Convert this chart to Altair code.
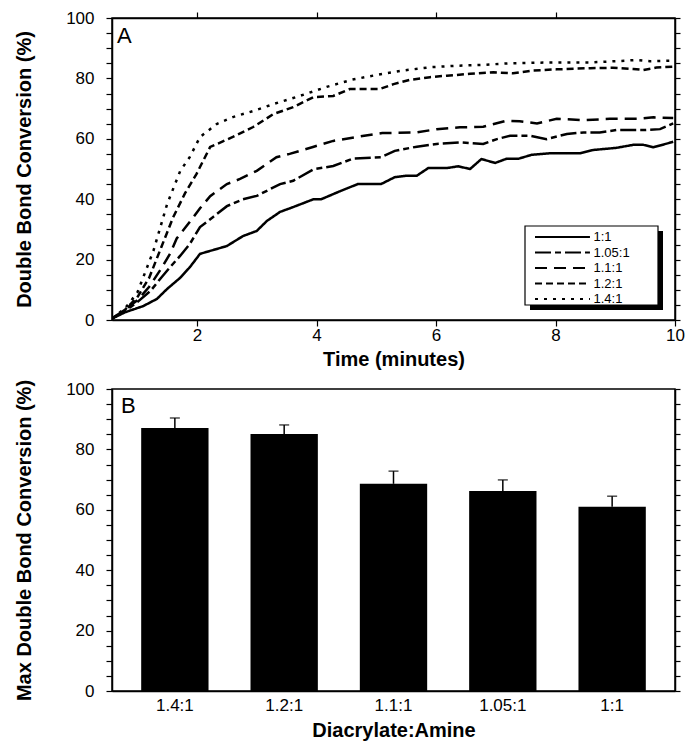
import altair as alt
import pandas as pd

FONT = "Liberation Sans"

# ---------------- Panel A data ----------------
ratios = ["1:1", "1.05:1", "1.1:1", "1.2:1", "1.4:1"]
dash_patterns = [[1, 0], [16, 4, 6, 4], [12, 7], [7, 4], [3, 6]]

t_100 = [0.58, 0.80, 1.10, 1.33, 1.50, 1.72, 1.88, 2.05, 2.50, 2.77, 3.00, 3.17, 3.39,
         3.61, 3.95, 4.08, 4.40, 4.69, 5.08, 5.31, 5.51, 5.68, 5.87, 6.18, 6.37, 6.57,
         6.76, 6.99, 7.18, 7.38, 7.60, 7.91, 8.41, 8.63, 9.02, 9.30, 9.47, 9.64, 9.97]
v_100 = [0.5, 2.6, 4.6, 7.0, 10.3, 14.0, 17.5, 21.9, 24.5, 27.8, 29.5, 32.8, 35.8,
         37.4, 40.0, 40.0, 42.7, 45.0, 45.0, 47.3, 47.8, 47.8, 50.3, 50.3, 50.9, 50.0,
         53.3, 52.0, 53.4, 53.4, 54.7, 55.2, 55.2, 56.3, 57.0, 58.0, 58.0, 57.2, 59.0]

t_105 = [0.58, 0.80, 1.00, 1.22, 1.40, 1.55, 1.72, 1.88, 2.05, 2.27, 2.50, 2.77, 3.00,
         3.39, 3.61, 3.95, 4.28, 4.62, 5.08, 5.31, 5.68, 6.01, 6.40, 6.79, 7.02, 7.24,
         7.57, 7.85, 8.19, 8.47, 8.74, 9.02, 9.47, 9.75, 9.97]
v_105 = [0.5, 3.0, 5.9, 9.6, 14.0, 17.5, 21.3, 25.2, 30.8, 34.1, 37.7, 40.0, 41.1,
         45.0, 46.1, 49.9, 51.0, 53.5, 53.9, 56.0, 57.4, 58.3, 58.8, 58.3, 59.9, 61.0,
         61.0, 59.9, 61.6, 62.1, 62.1, 62.9, 62.9, 63.2, 65.1]

t_110 = [0.58, 0.80, 1.00, 1.20, 1.40, 1.55, 1.66, 1.88, 2.05, 2.22, 2.50, 2.72, 3.00,
         3.33, 3.55, 3.94, 4.28, 4.67, 5.10, 5.68, 6.01, 6.40, 6.79, 7.18, 7.40, 7.69,
         8.02, 8.47, 8.91, 9.36, 9.64, 9.97]
v_110 = [0.5, 3.5, 6.5, 11.0, 17.0, 22.0, 27.0, 32.5, 37.0, 41.0, 45.0, 46.7, 49.4,
         53.9, 55.0, 57.3, 59.3, 60.6, 61.9, 62.1, 63.2, 63.8, 64.0, 66.0, 65.8, 65.1,
         66.6, 66.2, 66.6, 66.6, 67.1, 66.9]

t_120 = [0.58, 0.80, 1.00, 1.20, 1.40, 1.60, 1.80, 1.99, 2.22, 2.60, 2.94, 3.28, 3.61,
         3.95, 4.28, 4.56, 5.06, 5.29, 5.56, 5.90, 6.18, 6.57, 6.96, 7.29, 7.63, 8.02,
         8.58, 8.96, 9.30, 9.47, 9.69, 9.97]
v_120 = [0.5, 3.5, 7.5, 14.0, 24.0, 34.0, 42.0, 48.3, 57.3, 60.6, 63.9, 68.2, 70.5,
         73.8, 74.2, 76.5, 76.5, 78.1, 79.5, 80.4, 80.9, 81.5, 82.0, 81.7, 82.6, 83.0,
         83.4, 83.5, 83.1, 82.8, 83.6, 83.9]

t_140 = [0.58, 0.80, 1.00, 1.27, 1.50, 1.72, 1.88, 2.05, 2.33, 2.60, 2.94, 3.28, 3.72,
         4.17, 4.60, 5.02, 5.45, 5.90, 6.35, 6.79, 7.24, 7.69, 8.13, 8.58, 9.02, 9.36,
         9.58, 9.97]
v_140 = [0.5, 4.0, 9.0, 22.9, 38.4, 49.4, 54.0, 60.6, 64.9, 67.2, 69.2, 71.5, 74.2,
         77.2, 79.6, 81.2, 82.6, 83.7, 84.2, 84.5, 85.0, 85.2, 85.3, 85.3, 85.7, 86.1,
         85.7, 85.9]

x_ticks_a = [2, 4, 6, 8, 10]
y_ticks = list(range(0, 101, 5))

# ---------------- Panel B data ----------------
cats_b = ["1.4:1", "1.2:1", "1.1:1", "1.05:1", "1:1"]
mean_b = [87.1, 85.1, 68.6, 66.2, 61.0]
upper_b = [90.4, 88.1, 72.8, 69.9, 64.5]

# ---------------- tables ----------------
rows = []
for r, ts, vs in zip(ratios, [t_100, t_105, t_110, t_120, t_140],
                     [v_100, v_105, v_110, v_120, v_140]):
    for t, v in zip(ts, vs):
        rows.append({"ratio": r, "t": t, "v": v})
df_a = pd.DataFrame(rows)
df_b = pd.DataFrame({"ratio": cats_b, "mean": mean_b, "upper": upper_b})
dummy = pd.DataFrame({"k": [0]})

W = 563
H = 302

label_expr = "datum.value % 20 == 0 ? datum.label : ''"

x_scale_a = alt.Scale(domain=[0.577, 10], nice=False, zero=False)
y_scale = alt.Scale(domain=[0, 100], nice=False)

lines = alt.Chart(df_a).mark_line(color="black", strokeWidth=2.5, clip=True).encode(
    x=alt.X("t:Q", scale=x_scale_a,
            axis=alt.Axis(values=x_ticks_a, title="Time (minutes)", labelFlush=False,
                          labelOverlap=False, tickSize=6, labelPadding=1, titlePadding=6)),
    y=alt.Y("v:Q", scale=y_scale,
            axis=alt.Axis(values=y_ticks, labelExpr=label_expr, title="Double Bond Conversion (%)",
                          labelOverlap=False, labelPadding=12, titlePadding=31)),
    strokeDash=alt.StrokeDash(
        "ratio:N", sort=ratios,
        scale=alt.Scale(domain=ratios, range=dash_patterns),
        legend=alt.Legend(orient="none", legendX=416.5, legendY=212.5, title=None,
                          symbolType="M0,0H15.7", symbolSize=49, symbolStrokeWidth=2,
                          symbolStrokeColor="black", symbolFillColor="transparent",
                          labelFont=FONT, labelFontSize=13, labelColor="black",
                          labelOffset=52, rowPadding=1.5, padding=0)),
)

frame_a = alt.Chart(df_a).mark_point(opacity=0).encode(
    x=alt.X("t:Q", scale=x_scale_a,
            axis=alt.Axis(orient="top", values=[2, 4, 6, 8], labels=False, title=None, tickSize=6)),
    y=alt.Y("v:Q", scale=y_scale,
            axis=alt.Axis(orient="right", values=y_ticks, labels=False, title=None, tickSize=5)),
)

# legend frame with drop shadow
shadow = alt.Chart(dummy).mark_rect(color="black").encode(
    x=alt.value(418), x2=alt.value(551), y=alt.value(213), y2=alt.value(292))
legend_box = alt.Chart(dummy).mark_rect(fill="white", stroke="black", strokeWidth=1.2).encode(
    x=alt.value(413), x2=alt.value(546), y=alt.value(208), y2=alt.value(287))

label_a = alt.Chart(dummy).mark_text(text="A", font=FONT, fontSize=22, align="left",
                                     baseline="alphabetic", color="black").encode(
    x=alt.value(5), y=alt.value(25))

panel_a = alt.layer(lines, shadow, legend_box, frame_a, label_a).resolve_axis(
    x="independent", y="independent").properties(width=W, height=H)

# ---------------- Panel B ----------------
x_b = alt.X("ratio:N", sort=cats_b,
            scale=alt.Scale(paddingInner=0.384, paddingOuter=0.267),
            axis=alt.Axis(title="Diacrylate:Amine", labelAngle=0, ticks=False,
                          labelPadding=6, titlePadding=7))
y_b = alt.Y("mean:Q", scale=y_scale,
            axis=alt.Axis(values=y_ticks, labelExpr=label_expr,
                          title="Max Double Bond Conversion (%)", labelOverlap=False,
                          labelPadding=12, titlePadding=31))

bars = alt.Chart(df_b).mark_bar(color="black").encode(x=x_b, y=y_b)
whisk = alt.Chart(df_b).mark_rule(color="black", strokeWidth=1.5).encode(
    x=x_b, y=alt.Y("mean:Q", scale=y_scale, axis=None), y2="upper:Q")
caps = alt.Chart(df_b).mark_tick(color="black", thickness=1.5, size=10).encode(
    x=x_b, y=alt.Y("upper:Q", scale=y_scale, axis=None))
frame_b = alt.Chart(df_b).mark_point(opacity=0).encode(
    x=x_b,
    y=alt.Y("mean:Q", scale=y_scale,
            axis=alt.Axis(orient="right", values=y_ticks, labels=False, title=None, tickSize=5)))
label_b = alt.Chart(dummy).mark_text(text="B", font=FONT, fontSize=22, align="left",
                                     baseline="alphabetic", color="black").encode(
    x=alt.value(9), y=alt.value(24))

panel_b = alt.layer(bars, whisk, caps, frame_b, label_b).resolve_axis(
    y="independent").properties(width=W, height=H)

chart = alt.vconcat(panel_a, panel_b, spacing=8).configure(
    font=FONT, padding={"left": 5, "top": 0, "right": 0, "bottom": 0}
).configure_view(stroke="black", strokeWidth=1.5).configure_axis(
    domainColor="black", domainWidth=1.5, tickColor="black", tickWidth=1.2,
    tickSize=6, labelFont=FONT, labelFontSize=17, labelColor="black",
    titleFont=FONT, titleFontSize=20, titleFontWeight="bold", titleColor="black",
    grid=False)

chart.save("out.html", embed_options={"renderer": "svg", "actions": False})
